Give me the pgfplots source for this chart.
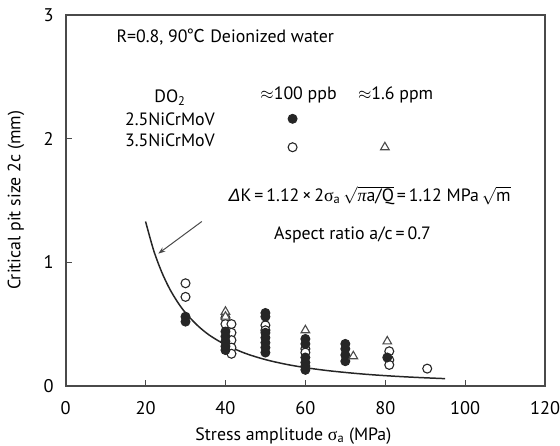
\documentclass[border=0pt]{standalone}
\usepackage{fontspec}
\setmainfont{PT Sans}
\newfontfamily\cjk{Noto Sans CJK SC}
\newfontfamily\grk{Liberation Serif}
\newfontfamily\grks{Liberation Sans}
\usepackage{pgfplots}
\pgfplotsset{compat=1.18}
\usetikzlibrary{arrows.meta}
\definecolor{frame}{HTML}{4A4A4A}
\definecolor{ink}{HTML}{262626}
\begin{document}
\fontsize{18}{21}\selectfont
\begin{tikzpicture}
\begin{axis}[name=ax, scale only axis, width=482bp, height=373bp,
 xmin=0,xmax=120,ymin=0,ymax=3,
 xtick={0,20,...,120}, ytick={0,1,2,3},
 tick align=inside, xtick pos=bottom, ytick pos=left,
 major tick length=6bp,
 axis line style={frame, line width=1.8bp},
 every tick/.style={frame, line width=1bp},
 tick label style={font=\fontsize{18.5}{21}\selectfont},
 /pgf/number format/assume math mode=true,
 xticklabel style={yshift=-9bp},
 yticklabel style={xshift=-6bp},
 xlabel={Stress amplitude {\grk σ}\textsubscript{a} (MPa)},
 ylabel={Critical pit size 2c (mm)},
 xlabel style={at={([yshift=-50bp]axis description cs:0.475,0)}, anchor=center},
 ylabel style={at={([xshift=-50bp]axis description cs:0,0.5)}, anchor=center},
 clip=false,
]
% curve dK = 1.12 MPa sqrt(m)
\addplot[ink, line width=1.5bp, smooth] coordinates {
(20,1.330) (22,1.099) (24,0.924) (26,0.787) (28,0.679) (30,0.591) (33,0.489)
(36,0.410) (40,0.333) (45,0.263) (50,0.213) (55,0.176) (60,0.148) (65,0.126)
(70,0.109) (75,0.0946) (80,0.0831) (85,0.0736) (90,0.0657) (95,0.0590)};
% open circles: 3.5NiCrMoV, ~100 ppb
\addplot[only marks, mark=*, mark size=4.5bp, mark options={draw=ink, fill=white, line width=1.1bp}] coordinates {
(30,0.83) (30,0.72)
(40,0.55) (40,0.50)
(41.5,0.50) (41.5,0.43) (41.5,0.37) (41.5,0.31) (41.5,0.26)
(50,0.49) (50,0.45)
(60,0.30) (60,0.27)
(81,0.28) (81,0.21) (81,0.17)
(90.5,0.14)
(56.8,1.93)};
% filled circles: 2.5NiCrMoV, ~100 ppb
\addplot[only marks, mark=*, mark size=4.5bp, mark options={draw=ink, fill=ink, line width=1bp}] coordinates {
(30,0.56) (30,0.52)
(40,0.44) (40,0.40) (40,0.36) (40,0.32) (40,0.29)
(50,0.59) (50,0.56) (50,0.43) (50,0.39) (50,0.35) (50,0.31) (50,0.27)
(60,0.38) (60,0.34) (60,0.23) (60,0.19) (60,0.16) (60,0.13)
(70,0.34) (70,0.30) (70,0.25) (70,0.20)
(80.5,0.23)
(56.8,2.16)};
% triangles: 3.5NiCrMoV, ~1.6 ppm
\addplot[only marks, mark=triangle*, mark size=5bp, mark options={draw=frame, fill=white, line width=1.1bp}] coordinates {
(40,0.60) (40,0.56) (60,0.45) (72,0.24) (80.5,0.36)
(79.9,1.93)};
\draw[frame, line width=1bp, -{Stealth[length=7bp,width=5bp]}] (axis cs:34.1,1.33) -- (axis cs:23.2,1.07);
\node[anchor=west, inner sep=0] at (axis cs:12.7,2.82) {R=0.8, 90{\cjk ℃} Deionized water};
\node[inner sep=0] at (axis cs:58.3,2.35) {$\approx$100 ppb};
\node[inner sep=0] at (axis cs:82.6,2.35) {$\approx$1.6 ppm};
\node[inner sep=0] at (axis cs:26.1,2.33) {DO\textsubscript{2}};
\node[inner sep=0] at (axis cs:26.1,2.16) {2.5NiCrMoV};
\node[inner sep=0] at (axis cs:26.1,1.99) {3.5NiCrMoV};
\node[inner sep=0] at (axis cs:76.1,1.54) {{\grks\itshape Δ}K\,=\,1.12\,×\,2{\grk σ}\textsubscript{a}\,$\sqrt{\mbox{{\grk\itshape π}a/Q}}$\,=\,1.12 MPa\,$\sqrt{\mbox{m}}$};
\node[inner sep=0] at (axis cs:71.8,1.22) {Aspect ratio a/c\,=\,0.7};
\end{axis}
\pgfresetboundingbox
\path ([shift={(-66bp,-60bp)}]ax.south west) rectangle ([shift={(15bp,15bp)}]ax.north east);
\end{tikzpicture}
\end{document}
